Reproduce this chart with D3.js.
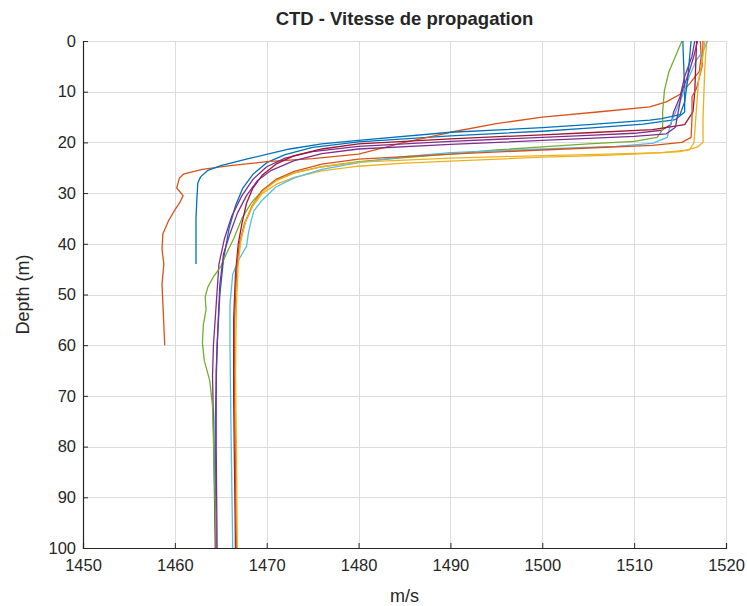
<!DOCTYPE html>
<html>
<head>
<meta charset="utf-8">
<script src="https://cdn.jsdelivr.net/npm/d3@7"></script>
<style>
body { margin: 0; background: #fff; }
#graphicContainer { width: 747px; height: 606px; }
text { font-family: "Liberation Sans", Arial, Helvetica, sans-serif; fill: #262626; }
</style>
</head>
<body>
<div id="graphicContainer"></div>
<script>

// profils CTD : [vitesse m/s, profondeur m]
var cast1 = [[1515.3,0],[1515.4,5],[1515.5,10],[1515.5,14],[1514.5,15.5],[1511,16.4],[1505,17.2],[1500,17.8],[1490,18.7],[1480,19.9],[1475,21],[1472,22.4],[1470,24],[1468.5,26.3],[1467.4,29],[1466.6,32.5],[1465.9,37],[1465.3,43],[1464.9,50],[1464.6,60],[1464.4,75],[1464.4,88],[1464.5,100]];
var cast2 = [[1517.2,0],[1517.3,3],[1517.1,6],[1516,8.5],[1515,10.5],[1513.5,12],[1511.7,13],[1506,14],[1500,15],[1495,16.3],[1490,18],[1485,20],[1480,22.3],[1475,23.2],[1470,23.8],[1466,24.6],[1463,25.3],[1461,26.2],[1460.5,27],[1460.2,29],[1460.9,30.5],[1460.5,32],[1460,33.3],[1459.3,35.5],[1458.7,38],[1458.6,41],[1458.8,44],[1458.6,48],[1458.7,52],[1458.8,56],[1458.9,60]];
var cast3 = [[1517.9,0],[1517.7,5],[1517.6,10],[1517.5,15],[1517.5,20],[1516.8,21],[1515,21.8],[1510,22.3],[1506,22.6],[1500,22.9],[1490,23.7],[1485,24.1],[1480,24.7],[1476,25.6],[1473,26.9],[1471,28.3],[1469.5,30.1],[1468.5,32.5],[1467.6,36],[1467.1,40],[1466.7,45],[1466.5,55],[1466.5,70],[1466.6,85],[1466.7,100]];
var cast4 = [[1516.6,0],[1516.3,3],[1515.5,7],[1515,11],[1514.3,14],[1514,16.5],[1513,17.6],[1510,18.2],[1505,18.6],[1500,19],[1490,19.8],[1480,20.8],[1475,21.8],[1472,23.1],[1470,24.8],[1468.5,27.3],[1467.3,30.5],[1466.2,34.5],[1465.4,39],[1464.8,44],[1464.5,52],[1464.2,60],[1464.1,66],[1464.2,75],[1464.3,88],[1464.4,100]];
var cast5 = [[1515.2,0],[1514.5,3],[1513.8,6],[1513.3,9.7],[1513.1,14],[1513.1,17.5],[1512.5,19],[1510,19.8],[1505,20.3],[1500,20.9],[1495,21.5],[1490,22.3],[1485,23],[1480,23.8],[1476,24.8],[1473,26],[1471,27.5],[1469.5,29.5],[1468.3,32],[1467.3,35],[1466.4,39],[1465.6,42],[1465,44.5],[1464.2,46.5],[1463.6,48.5],[1463.3,50.5],[1463.4,53],[1463.1,56],[1463,59.5],[1463.2,63],[1463.8,67],[1464.1,72],[1464.3,85],[1464.5,100]];
var cast6 = [[1518,0],[1517.5,2],[1516.8,3.7],[1516,7],[1515.2,11],[1514,16.2],[1513.6,19],[1512,20.2],[1508,20.8],[1500,21.3],[1490,22],[1485,22.8],[1480,24],[1476,25.3],[1473,27],[1471,28.8],[1469.5,31.4],[1468.6,33.5],[1468.3,35.5],[1468,38],[1467.8,40.5],[1467,43],[1466.3,46],[1466,52],[1466,60],[1466.1,75],[1466.3,100]];
var cast7 = [[1516.8,0],[1516.7,5],[1516.6,10],[1516.4,14],[1515.5,16.5],[1512,17.5],[1505,18.1],[1500,18.5],[1490,19.3],[1480,20.3],[1476,21.3],[1473,22.6],[1471,24.3],[1469.5,26.5],[1468.5,29],[1467.8,32],[1467.3,36],[1466.9,40],[1466.6,46],[1466.4,55],[1466.4,70],[1466.5,85],[1466.6,100]];
var cast8 = [[1516.2,0],[1516,4],[1515.8,8],[1515.5,12],[1515,14.5],[1513,15.3],[1511.7,15.6],[1505,16.5],[1500,17.1],[1490,18],[1480,19.6],[1476,20.3],[1472.5,21.3],[1468,23.2],[1465,24.6],[1463.6,25.5],[1462.8,26.8],[1462.5,28],[1462.4,31],[1462.3,35],[1462.3,40],[1462.3,44]];
var cast9 = [[1517.5,0],[1517.4,5],[1516.8,9.3],[1516.3,11],[1516.3,15],[1516.2,19],[1515.2,20],[1512,20.6],[1505,21.1],[1500,21.5],[1490,22.3],[1480,23.3],[1476,24.3],[1473,25.7],[1471,27.3],[1469.5,29.5],[1468.4,32.5],[1467.6,36],[1467,40],[1466.7,46],[1466.5,55],[1466.5,70],[1466.6,85],[1466.7,100]];
var cast10 = [[1517.7,0],[1517.4,4],[1517,8],[1516.8,13],[1516.6,18],[1516.5,20.1],[1516,21.5],[1513,22],[1505,22.4],[1500,22.6],[1490,23.1],[1480,23.9],[1476,24.8],[1473,26],[1471,27.6],[1469.6,29.6],[1468.6,32],[1467.8,35],[1467.2,39],[1466.9,44],[1466.7,52],[1466.6,65],[1466.7,80],[1466.8,100]];
var cast11 = [[1516.9,0],[1516.5,3],[1516,6],[1515.2,10],[1514.8,14],[1514.5,17],[1513.5,18.3],[1510,18.8],[1505,19.2],[1500,19.6],[1490,20.4],[1480,21.3],[1476,22.2],[1473,23.6],[1470.5,25.5],[1469,27.5],[1467.8,30.5],[1466.8,34],[1466,38],[1465.3,42],[1464.9,48],[1464.7,56],[1464.5,65],[1464.5,80],[1464.6,100]];

var casts = [cast1, cast2, cast3, cast4, cast5, cast6, cast7, cast8, cast9, cast10, cast11];

// ordre de couleurs par defaut
var lineColors = ["#0072BD", "#D95319", "#EDB120", "#7E2F8E", "#77AC30", "#4DBEEE", "#A2142F"];

var xTicks = [1450, 1460, 1470, 1480, 1490, 1500, 1510, 1520];
var yTicks = [0, 10, 20, 30, 40, 50, 60, 70, 80, 90, 100];

var titleText = "CTD - Vitesse de propagation";
var xLabel = "m/s";
var yLabel = "Depth (m)";

function makeChart() {

	var width = 747, height = 606;
	var margin = {top: 41, right: 21, bottom: 58, left: 83};
	var plotW = width - margin.left - margin.right,
	    plotH = height - margin.top - margin.bottom;

	var x = d3.scaleLinear().domain([1450, 1520]).range([0, plotW]);
	var y = d3.scaleLinear().domain([0, 100]).range([0, plotH]);

	d3.select("#graphicContainer svg").remove();

	var svg = d3.select("#graphicContainer").append("svg")
		.attr("width", width)
		.attr("height", height);

	svg.append("defs").append("clipPath")
		.attr("id", "clip")
		.append("rect")
		.attr("width", plotW)
		.attr("height", plotH);

	var g = svg.append("g").attr("transform", "translate(" + margin.left + "," + margin.top + ")");

	// grille
	g.append("g")
		.selectAll("line")
		.data(xTicks)
		.enter().append("line")
		.attr("x1", d => Math.round(x(d)) + 0.5)
		.attr("x2", d => Math.round(x(d)) + 0.5)
		.attr("y1", 0)
		.attr("y2", plotH)
		.attr("stroke", "#dcdcdc")
		.attr("stroke-width", 1);

	g.append("g")
		.selectAll("line")
		.data(yTicks)
		.enter().append("line")
		.attr("y1", d => Math.round(y(d)) + 0.5)
		.attr("y2", d => Math.round(y(d)) + 0.5)
		.attr("x1", 0)
		.attr("x2", plotW)
		.attr("stroke", "#dcdcdc")
		.attr("stroke-width", 1);

	// courbes
	var line = d3.line()
		.x(d => x(d[0]))
		.y(d => y(d[1]));

	g.append("g")
		.attr("clip-path", "url(#clip)")
		.selectAll("path")
		.data(casts)
		.enter().append("path")
		.attr("d", line)
		.attr("fill", "none")
		.attr("stroke", (d, i) => lineColors[i % lineColors.length])
		.attr("stroke-width", 1.3)
		.attr("stroke-linejoin", "round");

	// axes
	var xAxis = d3.axisBottom(x).tickValues(xTicks).tickSize(-5).tickPadding(11).tickFormat(d3.format("d"));
	var yAxis = d3.axisLeft(y).tickValues(yTicks).tickSize(-5).tickPadding(7).tickFormat(d3.format("d"));

	var gx = g.append("g")
		.attr("transform", "translate(0," + plotH + ")")
		.call(xAxis);

	var gy = g.append("g").call(yAxis);

	[gx, gy].forEach(function(a) {
		a.select(".domain").attr("stroke", "#262626").attr("stroke-width", 1.2);
		a.selectAll(".tick line").attr("stroke", "#262626");
		a.selectAll(".tick text")
			.attr("font-size", 16.5)
			.attr("font-family", "'Liberation Sans', Arial, sans-serif")
			.attr("fill", "#262626");
	});

	svg.append("text")
		.attr("x", margin.left + plotW / 2)
		.attr("y", 25)
		.attr("text-anchor", "middle")
		.attr("font-size", 18.5)
		.attr("font-weight", "bold")
		.attr("fill", "#000")
		.text(titleText);

	svg.append("text")
		.attr("x", margin.left + plotW / 2)
		.attr("y", 602)
		.attr("text-anchor", "middle")
		.attr("font-size", 18)
		.text(xLabel);

	svg.append("text")
		.attr("transform", "translate(29," + (margin.top + plotH / 2) + ") rotate(-90)")
		.attr("text-anchor", "middle")
		.attr("font-size", 18)
		.text(yLabel);
}

makeChart();
</script>
</body>
</html>
